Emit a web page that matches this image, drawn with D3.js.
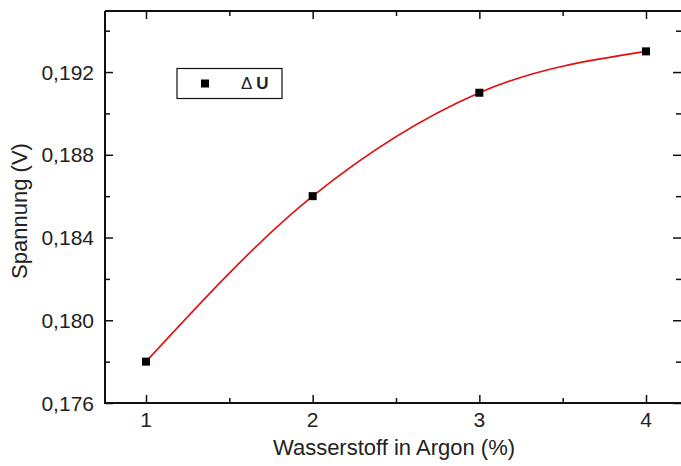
<!DOCTYPE html>
<html>
<head>
<meta charset="utf-8">
<script src="https://cdn.jsdelivr.net/npm/d3@7"></script>
<style>
  html, body { margin: 0; padding: 0; background: #fff; }
  svg { display: block; }
  text { font-family: "Liberation Sans", Arial, Helvetica, sans-serif; fill: #222; }
</style>
</head>
<body>
<svg id="chart" width="681" height="466"></svg>
<script>
// ---- data ----
const hydrogenPercent = [1, 2, 3, 4];
const voltageDeltaU = [0.178, 0.186, 0.191, 0.193];
const xMajorTicks = [1, 2, 3, 4];
const xMinorTicks = [1.5, 2.5, 3.5];
const yMajorTicks = [0.176, 0.180, 0.184, 0.188, 0.192];
const yMinorTicks = [0.178, 0.182, 0.186, 0.190, 0.194];
const xTitle = "Wasserstoff in Argon (%)";
const yTitle = "Spannung (V)";
const legendLabel = ["\u0394", "U"];

(function () {
// ---- layout ----
const plot = { left: 105, right: 681, top: 11, bottom: 403 };

const svg = d3.select("#chart");

const xBase = d3.scaleLinear().domain([1, 4]).range([146, 646]);
const x = d3.scaleLinear()
  .domain([xBase.invert(plot.left), xBase.invert(plot.right)])
  .range([plot.left, plot.right]);
const y = d3.scaleLinear().domain([0.176, 0.195]).range([plot.bottom, 10]);

const fmt = v => d3.format(".3f")(v).replace(".", ",");

const axisColor = "#111";
const majorLen = 8, minorLen = 5;

const gBottom = svg.append("g").attr("transform", `translate(0,${plot.bottom})`)
  .call(d3.axisTop(x).tickValues(xMajorTicks).tickSize(majorLen).tickFormat(""));
const gBottomMinor = svg.append("g").attr("transform", `translate(0,${plot.bottom})`)
  .call(d3.axisTop(x).tickValues(xMinorTicks).tickSize(minorLen).tickFormat(""));
const gTop = svg.append("g").attr("transform", `translate(0,${plot.top})`)
  .call(d3.axisBottom(x).tickValues(xMajorTicks).tickSize(majorLen).tickFormat(""));
const gTopMinor = svg.append("g").attr("transform", `translate(0,${plot.top})`)
  .call(d3.axisBottom(x).tickValues(xMinorTicks).tickSize(minorLen).tickFormat(""));
const gLeft = svg.append("g").attr("transform", `translate(${plot.left},0)`)
  .call(d3.axisRight(y).tickValues(yMajorTicks).tickSize(majorLen).tickFormat(""));
const gLeftMinor = svg.append("g").attr("transform", `translate(${plot.left},0)`)
  .call(d3.axisRight(y).tickValues(yMinorTicks).tickSize(minorLen).tickFormat(""));
const gRight = svg.append("g").attr("transform", `translate(${plot.right},0)`)
  .call(d3.axisLeft(y).tickValues(yMajorTicks).tickSize(majorLen).tickFormat(""));
const gRightMinor = svg.append("g").attr("transform", `translate(${plot.right},0)`)
  .call(d3.axisLeft(y).tickValues(yMinorTicks).tickSize(minorLen).tickFormat(""));

[gBottom, gBottomMinor, gTop, gTopMinor, gLeft, gLeftMinor, gRight, gRightMinor].forEach(g => {
  g.selectAll(".domain").remove();
  g.selectAll(".tick line").attr("stroke", axisColor).attr("stroke-width", 1.5);
});

// frame lines
svg.append("path")
  .attr("d", `M${plot.left},${plot.top}H${plot.right}M${plot.left},${plot.top}V${plot.bottom}H${plot.right}`)
  .attr("fill", "none").attr("stroke", axisColor).attr("stroke-width", 2);

svg.append("g").selectAll("text").data(xMajorTicks).join("text")
  .attr("x", d => x(d)).attr("y", 427)
  .attr("text-anchor", "middle")
  .attr("font-size", 21)
  .text(d => d);

svg.append("g").selectAll("text").data(yMajorTicks).join("text")
  .attr("x", 94).attr("y", d => y(d)).attr("dy", "0.36em")
  .attr("text-anchor", "end")
  .attr("font-size", 21)
  .text(fmt);

svg.append("text")
  .attr("x", 394).attr("y", 455)
  .attr("text-anchor", "middle").attr("font-size", 22)
  .text(xTitle);
svg.append("text")
  .attr("transform", `translate(27,211) rotate(-90)`)
  .attr("text-anchor", "middle").attr("font-size", 22)
  .text(yTitle);

const pts = hydrogenPercent.map((v, i) => [v, voltageDeltaU[i]]);
const line = d3.line().x(d => x(d[0])).y(d => y(d[1])).curve(d3.curveMonotoneX);
svg.append("path")
  .attr("d", line(pts))
  .attr("fill", "none")
  .attr("stroke", "#e01010")
  .attr("stroke-width", 1.6);

const ms = 8;
svg.append("g").selectAll("rect").data(pts).join("rect")
  .attr("x", d => x(d[0]) - ms / 2)
  .attr("y", d => y(d[1]) - ms / 2)
  .attr("width", ms).attr("height", ms)
  .attr("fill", "#000");

const lg = svg.append("g");
lg.append("rect")
  .attr("x", 177).attr("y", 68.5).attr("width", 105).attr("height", 30)
  .attr("fill", "#fff").attr("stroke", "#111").attr("stroke-width", 1.2);
lg.append("rect")
  .attr("x", 201).attr("y", 79.5).attr("width", ms).attr("height", ms)
  .attr("fill", "#000");
const lt = lg.append("text").attr("x", 241).attr("y", 89).attr("font-size", 17);
lt.append("tspan").text(legendLabel[0]);
lt.append("tspan").attr("dx", 4).attr("font-weight", "bold").attr("font-size", 17).text(legendLabel[1]);
})();
</script>
</body>
</html>
